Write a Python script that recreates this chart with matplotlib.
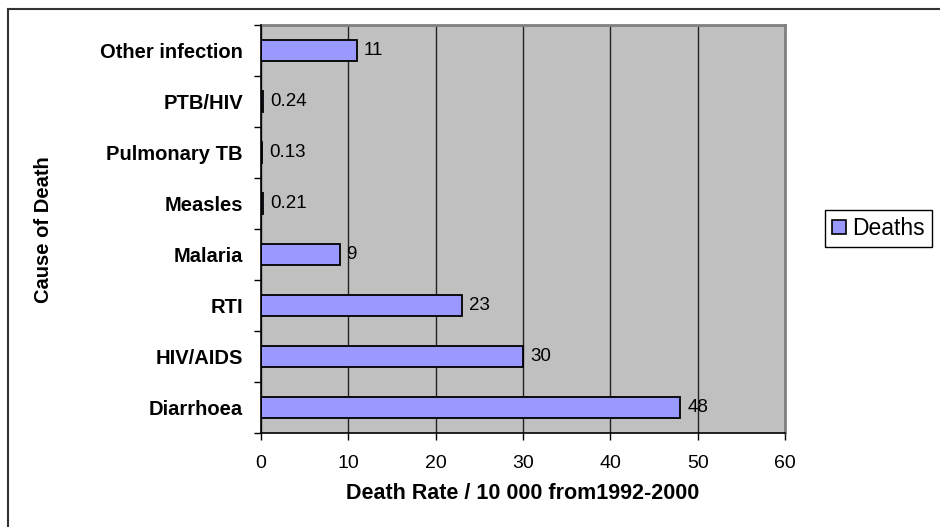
import matplotlib
matplotlib.use("Agg")
import matplotlib.pyplot as plt
from matplotlib.patches import Patch
from matplotlib.lines import Line2D
import numpy as np

plt.rcParams['font.family'] = ['Liberation Sans', 'DejaVu Sans']

causes = ["Diarrhoea", "HIV/AIDS", "RTI", "Malaria", "Measles",
          "Pulmonary TB", "PTB/HIV", "Other infection"]
deaths = [48, 30, 23, 9, 0.21, 0.13, 0.24, 11]
value_labels = ["48", "30", "23", "9", "0.21", "0.13", "0.24", "11"]
x_ticks = [0, 10, 20, 30, 40, 50, 60]

fig = plt.figure(figsize=(9.4, 5.27), dpi=100)
ax = fig.add_axes([0.2777, 0.1784, 0.5574, 0.7742])
ax.set_facecolor("#C0C0C0")

y = np.arange(len(causes))
ax.barh(y, deaths, height=0.43, color="#9999FF", edgecolor="black",
        linewidth=1.3, zorder=3, label="Deaths")

for yi, v, lab in zip(y, deaths, value_labels):
    ax.annotate(lab, (v, yi), xytext=(5, 0), textcoords="offset points",
                va="center", ha="left", fontsize=13.5, zorder=4)

ax.set_xlim(0, 60)
ax.set_ylim(-0.5, len(causes) - 0.5)
ax.set_xticks(x_ticks)
ax.set_xticklabels([str(t) for t in x_ticks], fontsize=14)
ax.set_yticks(y)
ax.set_yticklabels(causes, fontsize=14.5, fontweight="bold")
ax.set_yticks(np.arange(-0.5, len(causes), 1.0), minor=True)
ax.tick_params(axis="y", which="major", length=0, pad=13)
ax.tick_params(axis="y", which="minor", length=5, width=1, color="black")
ax.tick_params(axis="x", length=5, width=1, color="black", pad=11)

ax.xaxis.grid(True, color="#222222", linewidth=1.0, zorder=1)
ax.set_axisbelow(True)

for side in ("top", "right"):
    ax.spines[side].set_color("#808080")
    ax.spines[side].set_linewidth(2)
for side in ("left", "bottom"):
    ax.spines[side].set_color("black")
    ax.spines[side].set_linewidth(1.2)
    ax.spines[side].set_zorder(5)

ax.set_xlabel("Death Rate / 10 000 from1992-2000", fontsize=15.5,
              fontweight="bold", labelpad=8)

fig.text(44 / 940, 1 - 230 / 527, "Cause of Death", rotation=90,
         ha="center", va="center", fontsize=14.5, fontweight="bold")

handle = Patch(facecolor="#9999FF", edgecolor="black", linewidth=1.2)
fig.legend([handle], ["Deaths"], loc="center left",
           bbox_to_anchor=(825 / 940, 1 - 228.5 / 527), fontsize=16.5,
           frameon=True, fancybox=False, edgecolor="black",
           framealpha=1, handlelength=0.6, handleheight=0.55,
           handletextpad=0.3, borderpad=0.3, borderaxespad=0)

# outer chart border (left and top edges)
fig.add_artist(Line2D([8 / 940, 8 / 940], [0, 1 - 9 / 527],
                      transform=fig.transFigure, color="#333333", lw=1.5))
fig.add_artist(Line2D([8 / 940, 1], [1 - 9 / 527, 1 - 9 / 527],
                      transform=fig.transFigure, color="#333333", lw=1.5))

fig.savefig("out.png", dpi=100)
